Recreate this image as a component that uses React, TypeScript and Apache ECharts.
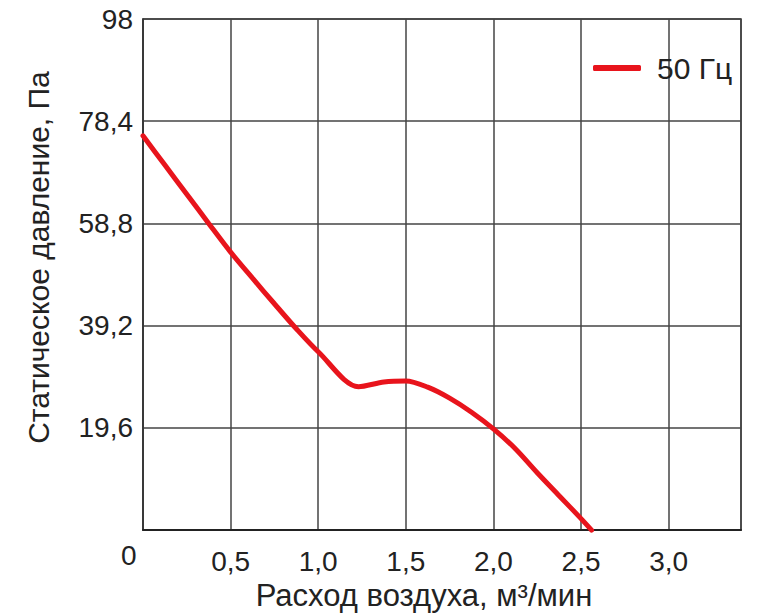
import React, { useEffect, useRef } from "react";
import * as echarts from "echarts";

const flow = [0, 0.125, 0.25, 0.375, 0.5, 0.625, 0.75, 0.875, 1.0, 1.23, 1.375, 1.5, 1.625, 1.75, 1.875, 2.0, 2.125, 2.25, 2.375, 2.5, 2.56];
const pressure = [75.6, 70.0, 64.4, 58.8, 53.3, 48.3, 43.4, 38.6, 34.2, 27.5, 28.4, 28.6, 27.4, 25.3, 22.6, 19.4, 15.6, 11.0, 6.6, 2.2, 0];
const seriesName = "50 Гц";
const xAxisTitle = "Расход воздуха, м³/мин";
const yAxisTitle = "Статическое давление, Па";
const yMax = 98;
const yStep = 19.6;
const xStep = 0.5;
const xMax = 3.413;
const originLabel = "0";

const FONT = "Liberation Sans, Arial, sans-serif";
const TXT = "#222";

function fmtY(v: number): string {
  const r = Math.round(v * 10) / 10;
  return Number.isInteger(r) ? String(r) : r.toFixed(1).replace(".", ",");
}
function fmtX(v: number): string {
  return (Math.round(v * 10) / 10).toFixed(1).replace(".", ",");
}

export default function App() {
  const ref = useRef<HTMLDivElement>(null);
  useEffect(() => {
    if (!ref.current) return;
    const chart = echarts.init(ref.current, undefined, { renderer: "svg" });
    chart.setOption({
      animation: false,
      backgroundColor: "#fff",
      grid: {
        left: 143,
        top: 19,
        right: 16,
        bottom: 84,
        show: true,
        borderColor: "#333",
        borderWidth: 1.5,
      },
      legend: {
        left: 593,
        top: 53,
        padding: 0,
        icon: "roundRect",
        itemWidth: 48,
        itemHeight: 6,
        textStyle: {
          fontFamily: FONT,
          fontSize: 30,
          color: TXT,
          padding: [0, 0, 0, 11],
        },
        data: [seriesName],
      },
      xAxis: {
        type: "value",
        min: 0,
        max: xMax,
        interval: xStep,
        name: xAxisTitle,
        nameLocation: "middle",
        nameGap: 45,
        nameTextStyle: {
          fontFamily: FONT,
          fontSize: 31,
          color: TXT,
          padding: [0, 36, 0, 0],
        },
        axisLine: { show: true, lineStyle: { color: "#222", width: 2 } },
        axisTick: { show: false },
        splitLine: { show: true, lineStyle: { color: "#444", width: 1.5 } },
        axisLabel: {
          showMinLabel: false,
          showMaxLabel: false,
          margin: 17,
          fontFamily: FONT,
          fontSize: 28,
          color: TXT,
          formatter: (v: number) => fmtX(v),
        },
      },
      yAxis: {
        type: "value",
        min: 0,
        max: yMax,
        interval: yStep,
        name: yAxisTitle,
        nameLocation: "middle",
        nameGap: 90,
        nameTextStyle: {
          fontFamily: FONT,
          fontSize: 30,
          color: TXT,
          padding: [0, 0, 0, 34],
        },
        axisLine: { show: true, lineStyle: { color: "#333", width: 1.5 } },
        axisTick: { show: false },
        splitLine: { show: true, lineStyle: { color: "#444", width: 1.5 } },
        axisLabel: {
          showMinLabel: false,
          margin: 10,
          fontFamily: FONT,
          fontSize: 28,
          color: TXT,
          formatter: (v: number) => fmtY(v),
        },
      },
      graphic: [
        {
          type: "text",
          left: 121,
          top: 541,
          style: {
            text: originLabel,
            fontFamily: FONT,
            fontSize: 28,
            fill: TXT,
          },
        },
      ],
      series: [
        {
          name: seriesName,
          type: "line",
          data: flow.map((x, i) => [x, pressure[i]]),
          smooth: 0.3,
          symbol: "none",
          clip: false,
          lineStyle: { color: "#e8141c", width: 5, cap: "round" },
          itemStyle: { color: "#e8141c" },
        },
      ],
    });
    return () => chart.dispose();
  }, []);
  return <div ref={ref} style={{ width: 757, height: 616, position: "absolute", left: 0, top: 0 }} />;
}
